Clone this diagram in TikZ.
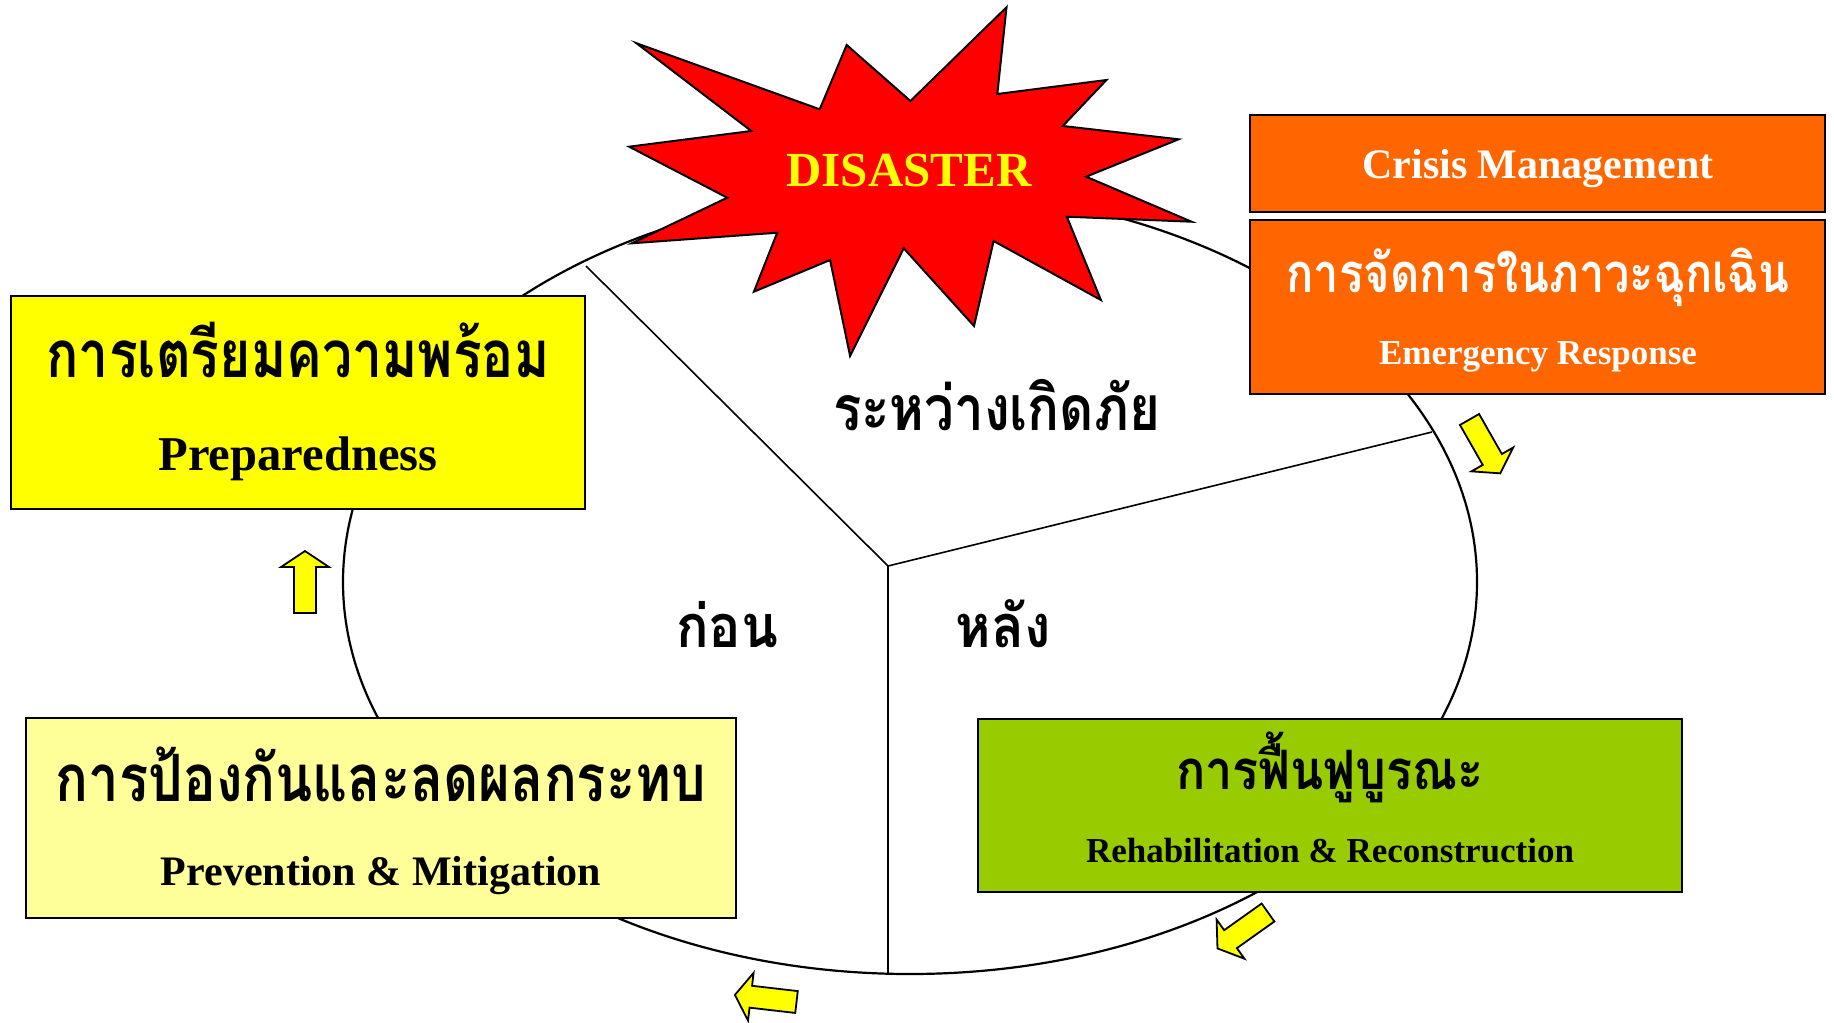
\documentclass[tikz,border=0pt]{standalone}
\usepackage{fontspec}
\setmainfont{Liberation Serif}
\newfontfamily\thaifont[Script=Thai]{Loma}
\usepackage{graphicx}
\definecolor{cYel}{HTML}{FFFF00}
\definecolor{cLYel}{HTML}{FFFF99}
\definecolor{cOra}{HTML}{FF6600}
\definecolor{cGrn}{HTML}{99CC00}
\definecolor{cRed}{HTML}{FF0000}
\newcommand\thw[3]{\scalebox{1}[#2]{\resizebox{#1}{!}{\thaifont\bfseries #3}}}
\newcommand\en[2]{\fontsize{#1}{#1}\selectfont\bfseries #2}
\tikzset{
  boxst/.style={draw=black, line width=1pt},
  spoke/.style={draw=black, line width=0.8pt},
  txt/.style={anchor=base, inner sep=0pt, outer sep=0pt},
  blockarr/.style={draw=black, fill=cYel, line width=0.9pt, line join=miter},
}
\newcommand\blockarrow[3]{%
  \draw[blockarr, shift={(#1,#2)}, rotate=#3]
    (0,-11)--(46,-11)--(46,-24)--(62,0)--(46,24)--(46,11)--(0,11)--cycle;}
\begin{document}
\begin{tikzpicture}[x=0.5pt,y=-0.5pt]
\useasboundingbox (0,0) rectangle (1834,1022);
% cycle ellipse
\draw[line width=1.1pt] (910,582) ellipse [x radius=567, y radius=392];
% spokes
\coordinate (J) at (888,566);
\coordinate (UL) at (586,266);
\coordinate (RR) at (1432,432);
\coordinate (BB) at (888,974);
\draw[spoke] (J) -- (UL);
\draw[spoke] (J) -- (RR);
\draw[spoke] (J) -- (BB);
% boxes
\path[boxst, fill=cYel] (10.5,296) rectangle (585,509);
\path[boxst, fill=cLYel] (26,718) rectangle (736,918);
\path[boxst, fill=cOra] (1250,115) rectangle (1825,212);
\path[boxst, fill=cOra] (1250,220) rectangle (1825,394);
\path[boxst, fill=cGrn] (978,719) rectangle (1682,892);
% starburst
\draw[fill=cRed, line width=1pt, line join=miter]
 (636.6,43.3)--(819.7,109.3)--(846.7,45)--(910.4,101)--(1006.5,7.3)--(997.3,94)--(1106.4,80)--(1062.8,126)--(1178.6,139.3)--(1086.1,176.7)--(1191.5,221.7)--(1066.8,216.7)--(1100.9,300)--(993.6,241)--(974,326)--(903.7,248.3)--(850.1,356)--(830.1,260)--(753.9,291.7)--(777.2,232.7)--(631.8,243.3)--(727.3,197.7)--(629.2,146.7)--(751.3,131)--cycle;
% texts
\node[txt, text=cYel] (dis) at (909,186) {\en{24.5}{DISASTER}};
\node[txt] (prepTh) at (298,377) {\thw{251.5pt}{1.22}{การเตรียมความพร้อม}};
\node[txt] (prepEn) at (298,470) {\en{24.3}{Preparedness}};
\node[txt] (prevTh) at (381,801) {\thw{325pt}{1.2}{การป้องกันและลดผลกระทบ}};
\node[txt] (prevEn) at (381,885) {\en{21}{Prevention \& Mitigation}};
\node[txt, text=white] (crisis) at (1538,178) {\en{21}{Crisis Management}};
\node[txt, text=white] (emTh) at (1538,292) {\thw{251.5pt}{1.2}{การจัดการในภาวะฉุกเฉิน}};
\node[txt, text=white] (emEn) at (1538,364.5) {\en{17.5}{Emergency Response}};
\node[txt] (rehTh) at (1330,789) {\thw{154pt}{1.12}{การฟื้นฟูบูรณะ}};
\node[txt] (rehEn) at (1330,862.5) {\en{17.5}{Rehabilitation \& Reconstruction}};
\node[txt] (during) at (996.5,430) {\thw{163.5pt}{1.18}{ระหว่างเกิดภัย}};
\node[txt] (before) at (727,647) {\thw{51pt}{1.1}{ก่อน}};
\node[txt] (after) at (1003,647) {\thw{47.5pt}{1.1}{หลัง}};
% block arrows
\blockarrow{305}{613}{90}
\blockarrow{1469.5}{419.5}{-60.3}
\blockarrow{1268}{912.5}{215.4}
\blockarrow{796.5}{1002}{173.4}
\end{tikzpicture}
\end{document}
